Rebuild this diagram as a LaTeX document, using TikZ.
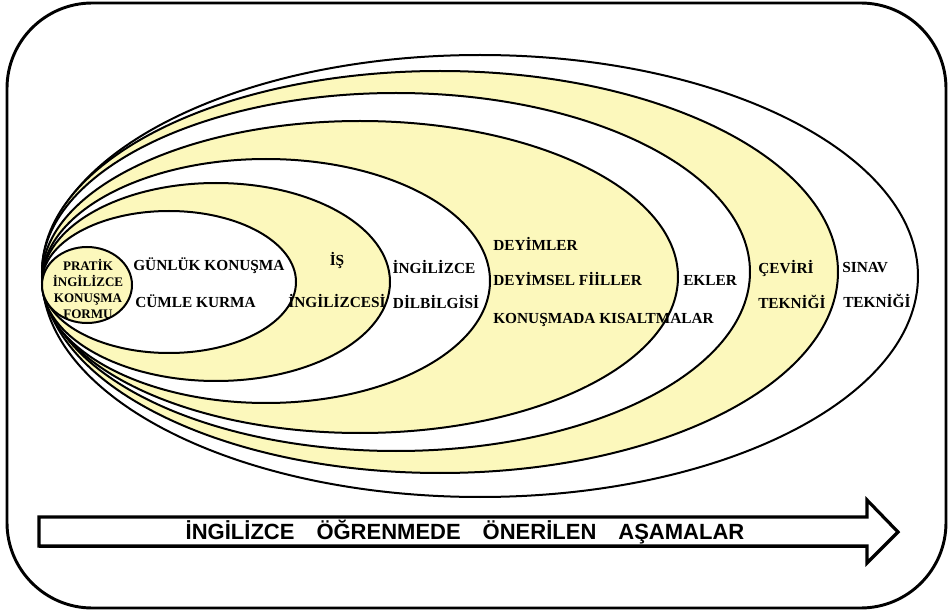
\documentclass[tikz,border=0pt]{standalone}
\usepackage{fontspec}
\usepackage{tikz}
\setmainfont{Liberation Serif}
\newfontfamily\arrowfont{Liberation Sans}
\definecolor{bandyellow}{RGB}{252,248,188}

\begin{document}
\begin{tikzpicture}[x=0.75pt,y=-0.75pt,
    ring/.style={draw=black,line width=1.5pt},
    lbl/.style={font=\bfseries\fontsize{11.5}{13}\selectfont,inner sep=0pt}]
      \useasboundingbox (0,0) rectangle (951,613);

      \draw [line width=2.2pt,rounded corners=64pt] (7,3) rectangle (946,608);

      \draw [ring,fill=white] (480,276) ellipse [x radius=438,y radius=221];
      \draw [ring,fill=bandyellow] (440,272) ellipse [x radius=398,y radius=201];
      \draw [ring,fill=white] (396,272) ellipse [x radius=354,y radius=179];
      \draw [ring,fill=bandyellow] (360,277) ellipse [x radius=318,y radius=156];
      \draw [ring,fill=white] (266,281) ellipse [x radius=224,y radius=122];
      \draw [ring,fill=bandyellow] (216,282) ellipse [x radius=174,y radius=99];
      \draw [ring,fill=white] (169,282) ellipse [x radius=127,y radius=71];
      \draw [ring,fill=bandyellow] (87,285) ellipse [x radius=45,y radius=38];

      \node (pratik) [inner sep=0pt,align=center,font=\bfseries\fontsize{9.8}{11.8}\selectfont]
        at (88,289) {PRATİK\\İNGİLİZCE\\KONUŞMA\\FORMU};

      \node (gunluk) [lbl,anchor=base west] at (133,271) {GÜNLÜK KONUŞMA};
      \node (cumle) [lbl,anchor=base west] at (135,308) {CÜMLE KURMA};

      \node (is) [lbl,anchor=base] at (337,266) {İŞ};
      \node (isingilizce) [lbl,anchor=base] at (337,308) {İNGİLİZCESİ};

      \node (ingilizce) [lbl,anchor=base] at (434,274) {İNGİLİZCE};
      \node (dilbilgisi) [lbl,anchor=base] at (436,309) {DİLBİLGİSİ};

      \node (deyimler) [lbl,anchor=base west] at (493,251) {DEYİMLER};
      \node (fiiller) [lbl,anchor=base west] at (493,286) {DEYİMSEL FİİLLER};
      \node (kisalt) [lbl,anchor=base west] at (493,324) {KONUŞMADA KISALTMALAR};

      \node (ekler) [lbl,anchor=base west] at (683,286) {EKLER};

      \node (ceviri) [lbl,anchor=base west] at (758,274) {ÇEVİRİ};
      \node (cevteknik) [lbl,anchor=base west] at (758,309) {TEKNİĞİ};

      \node (sinav) [lbl,anchor=base west] at (842,273) {SINAV};
      \node (sinteknik) [lbl,anchor=base west] at (843,308) {TEKNİĞİ};

      \draw [line width=2.4pt,fill=white,line join=miter]
        (39,517) -- (867,517) -- (867,500) -- (898,532) -- (867,563) -- (867,546) -- (39,546) -- cycle;
      \draw [line width=1.2pt] (39,547.5) -- (867,547.5);
      \node (stages) [inner sep=0pt,font=\arrowfont\bfseries\fontsize{16.5}{18}\selectfont] at (465,532)
        {İNGİLİZCE\hspace{1em}ÖĞRENMEDE\hspace{1em}ÖNERİLEN\hspace{1em}AŞAMALAR};

    \end{tikzpicture}
\end{document}
